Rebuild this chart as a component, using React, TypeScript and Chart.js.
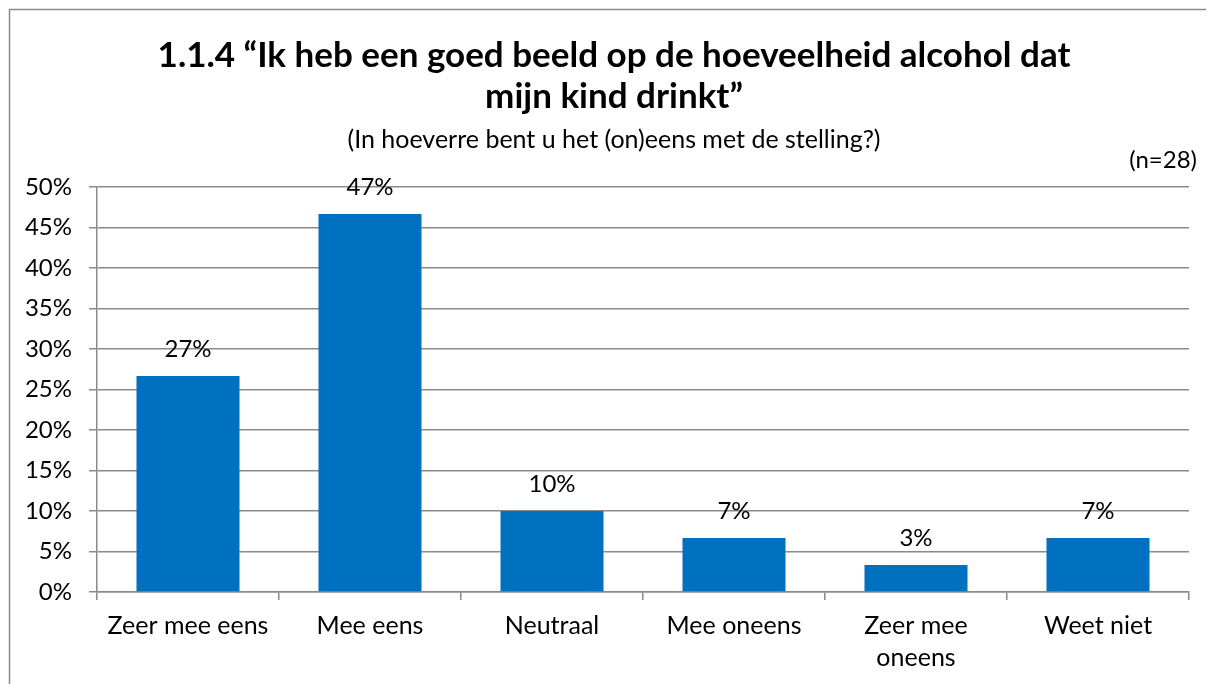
import React, { useEffect, useRef } from "react";
import { Chart, registerables } from "chart.js";

Chart.register(...registerables);

const categories: (string | string[])[] = [
  "Zeer mee eens",
  "Mee eens",
  "Neutraal",
  "Mee oneens",
  ["Zeer mee", "oneens"],
  "Weet niet",
];
const percentages = [26.67, 46.67, 10.0, 6.67, 3.33, 6.67];
const yTicks = [0, 5, 10, 15, 20, 25, 30, 35, 40, 45, 50];
const titleLines = [
  "1.1.4 \u201cIk heb een goed beeld op de hoeveelheid alcohol dat",
  "mijn kind drinkt\u201d",
];
const subtitleText = "(In hoeverre bent u het (on)eens met de stelling?)";
const sampleText = "(n=28)";

const FONT = "Lato, Carlito, 'Open Sans', sans-serif";
const GRID = "#8a8a8a";

const framePlugin = {
  id: "frame",
  beforeDraw(chart: any) {
    const ctx = chart.ctx;
    ctx.save();
    ctx.fillStyle = "#ffffff";
    ctx.fillRect(0, 0, chart.width, chart.height);
    ctx.strokeStyle = GRID;
    ctx.lineWidth = 1.5;
    ctx.beginPath();
    ctx.moveTo(1.5, chart.height + 5);
    ctx.lineTo(1.5, 1.5);
    ctx.lineTo(chart.width + 5, 1.5);
    ctx.stroke();
    ctx.restore();
  },
};

const labelPlugin = {
  id: "valueLabels",
  afterDatasetsDraw(chart: any) {
    const ctx = chart.ctx;
    ctx.save();
    ctx.font = `24px ${FONT}`;
    ctx.fillStyle = "#000000";
    ctx.textAlign = "center";
    ctx.textBaseline = "middle";
    const meta = chart.getDatasetMeta(0);
    meta.data.forEach((bar: any, i: number) => {
      const v = chart.data.datasets[0].data[i];
      ctx.fillText(Math.round(v) + "%", bar.x, bar.y - 27);
    });
    ctx.textAlign = "right";
    ctx.fillText(sampleText, chart.chartArea.right + 8, 152);
    ctx.restore();
  },
};

export default function App() {
  const ref = useRef<HTMLCanvasElement | null>(null);
  useEffect(() => {
    if (!ref.current) return;
    const chart = new Chart(ref.current, {
      type: "bar",
      data: {
        labels: categories,
        datasets: [
          {
            data: percentages,
            backgroundColor: "#0070C0",
            barPercentage: 0.566,
            categoryPercentage: 1,
            yAxisID: "y",
          },
        ],
      },
      options: {
        responsive: false,
        animation: false,
        layout: { padding: { left: 6, right: 0, top: 0, bottom: 0 } },
        plugins: {
          legend: { display: false },
          tooltip: { enabled: false },
          title: {
            display: true,
            text: titleLines,
            color: "#000000",
            font: { family: FONT, size: 35, weight: "bold", lineHeight: 1.17 },
            padding: { top: 27.5, bottom: 0 },
          },
          subtitle: {
            display: true,
            text: subtitleText,
            color: "#000000",
            font: { family: FONT, size: 25, lineHeight: 1.0 },
            padding: { top: 10, bottom: 34.5 },
          },
        },
        scales: {
          x: {
            offset: true,
            grid: {
              offset: true,
              drawOnChartArea: false,
              drawTicks: true,
              tickLength: 8,
              color: GRID,
              lineWidth: 1.5,
            },
            border: { color: GRID, width: 1.5 },
            ticks: {
              color: "#000000",
              font: { family: FONT, size: 25, lineHeight: 1.28 },
              padding: 10,
              maxRotation: 0,
              autoSkip: false,
            },
          },
          y: {
            min: 0,
            max: 50,
            afterBuildTicks(scale: any) {
              scale.ticks = yTicks.map((v) => ({ value: v }));
            },
            afterFit(scale: any) {
              scale.width = 83;
            },
            grid: {
              color: GRID,
              lineWidth: 1.5,
              tickLength: 8,
              drawTicks: true,
            },
            border: { color: GRID, width: 1.5 },
            ticks: {
              color: "#000000",
              font: { family: FONT, size: 24 },
              padding: 17,
              callback: (v: any) => v + "%",
            },
          },
          yRight: {
            type: "linear",
            position: "right",
            min: 0,
            max: 50,
            afterFit(scale: any) {
              scale.width = 25;
            },
            grid: { display: false, drawTicks: false },
            border: { display: false },
            ticks: { display: false },
          },
        },
      },
      plugins: [framePlugin, labelPlugin],
    });
    return () => chart.destroy();
  }, []);
  return (
    <div style={{ width: 1206, height: 676 }}>
      <canvas ref={ref} width={1206} height={676} style={{ display: "block" }} />
    </div>
  );
}
